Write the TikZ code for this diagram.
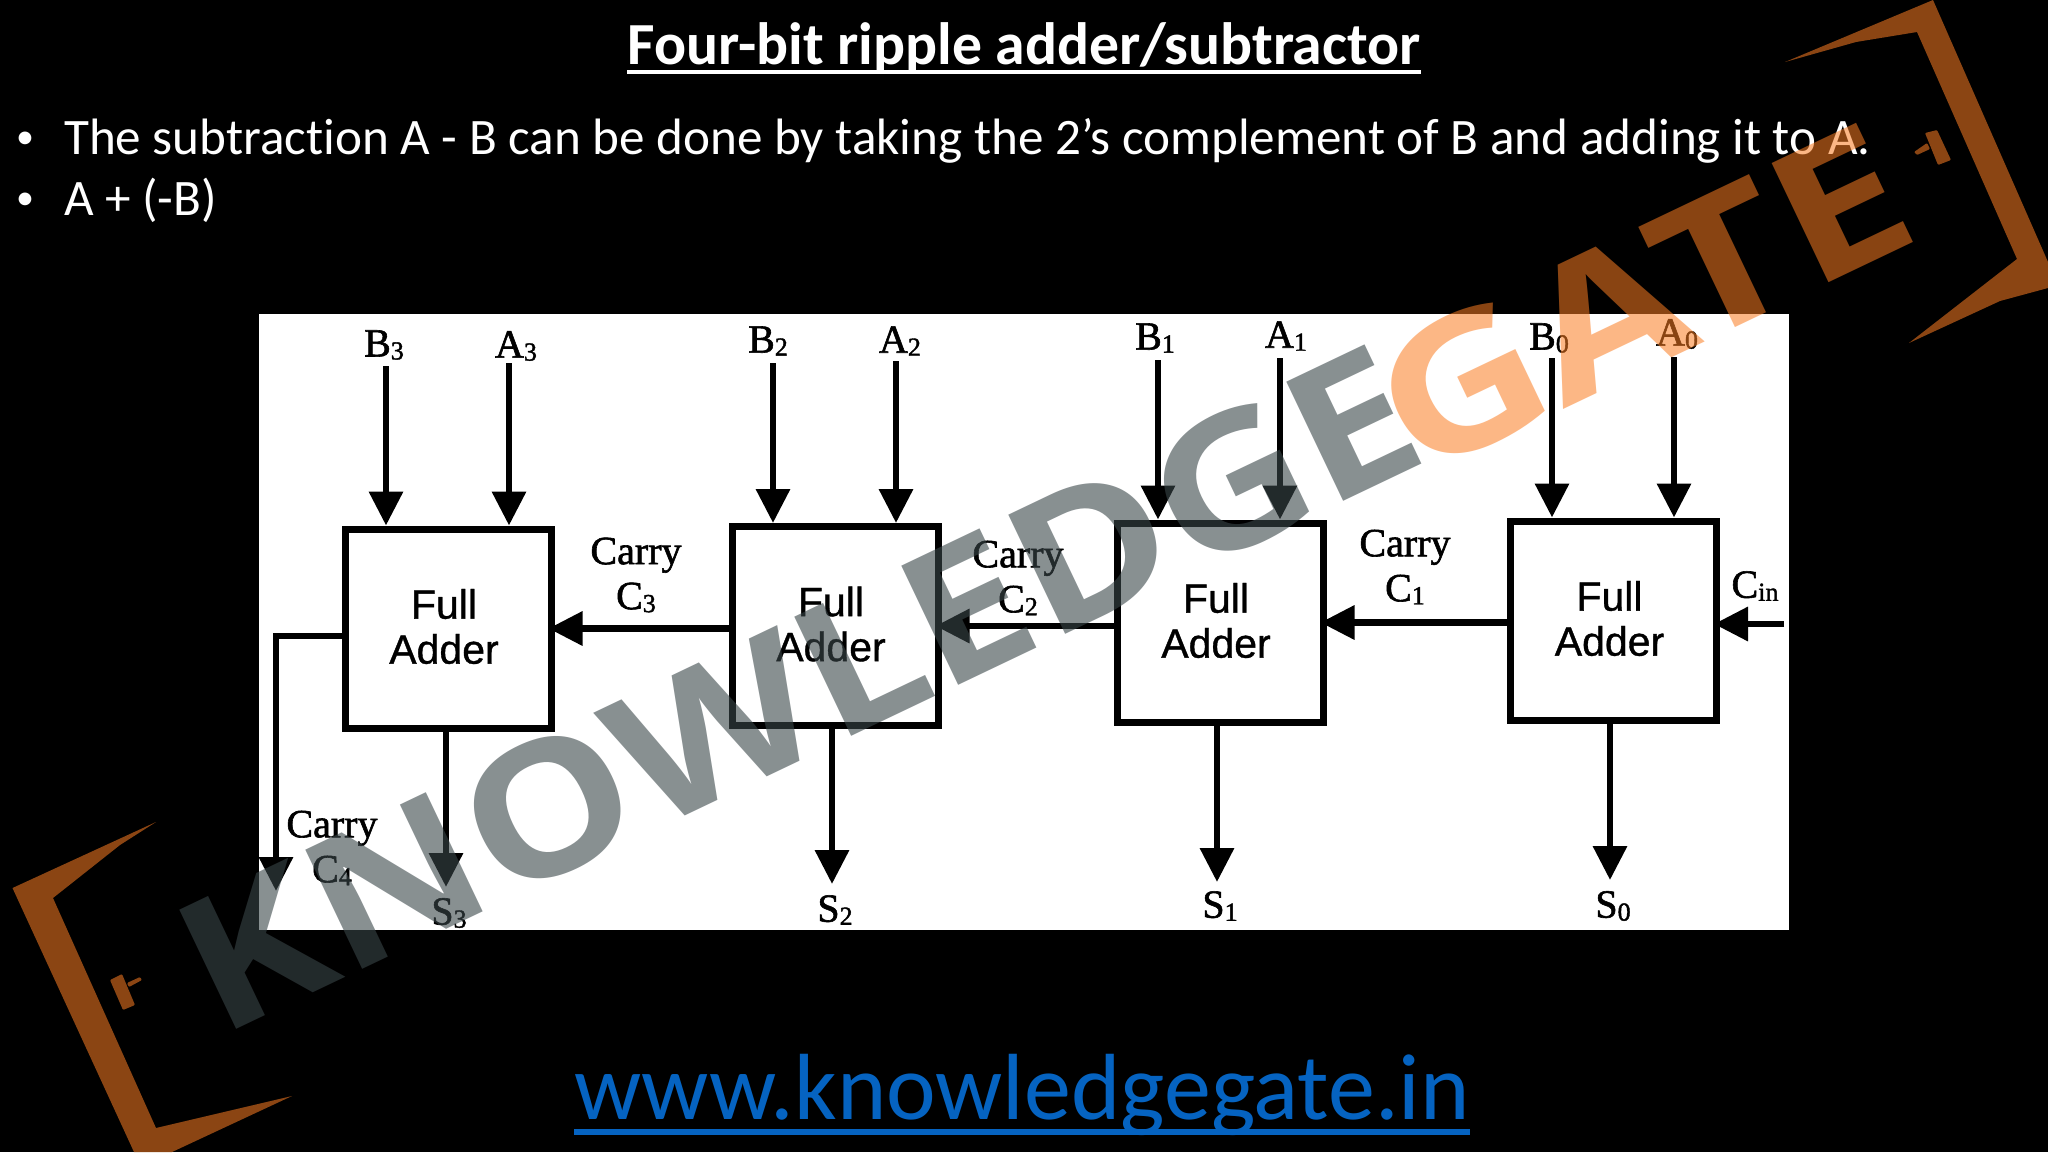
\documentclass[tikz,border=0pt]{standalone}
\usepackage{fontspec}
\usetikzlibrary{arrows.meta}
\setmainfont{Carlito}[Ligatures=CommonOff]
\newfontfamily\scanserif[FakeBold=1.5]{Liberation Serif}
\newfontfamily\scansans[FakeBold=0.9]{Liberation Sans}
\newfontfamily\markfont{Open Sans}
\newcommand{\subd}[1]{{\fontsize{26}{26}\selectfont\raisebox{-3pt}{#1}}}
\definecolor{linkblue}{RGB}{5,99,193}
\definecolor{markgray}{RGB}{58,70,73}
\definecolor{markorange}{RGB}{251,125,34}
\definecolor{markbrown}{RGB}{139,69,19}
\tikzset{
    adderbox/.style={draw=black, fill=white, line width=7pt, minimum width=206pt, minimum height=199pt, inner sep=0pt},
    addertext/.style={text=black, inner sep=0pt, align=center, font=\scansans\fontsize{41}{45}\selectfont},
    conn/.style={draw=black, line width=6.5pt, -{Triangle[length=34pt,width=33pt]}},
    carryconn/.style={conn, shorten >=-6pt},
    signal/.style={text=black, inner sep=0pt, align=center, font=\scanserif\fontsize{40}{45}\selectfont},
    slidetext/.style={text=white, inner sep=0pt, anchor=base west, font=\fontsize{51.15}{58}\selectfont},
    slidebullet/.style={text=white, inner sep=0pt, anchor=base, font=\fontsize{36}{40}\selectfont},
    wmark/.style={rotate=25.5, anchor=base west, inner sep=0pt, font=\markfont\bfseries\fontsize{185}{185}\selectfont},
    bracket/.style={fill=markbrown, rounded corners=1pt}
}
\begin{document}
\begin{tikzpicture}[x=1pt, y=-1pt]
    \useasboundingbox (0,0) rectangle (2048,1152);
    \fill[black] (0,0) rectangle (2048,1152);

    % Slide text
    \node[text=white, inner sep=0pt, anchor=base, font=\bfseries\fontsize{59.7}{64}\selectfont] (title) at (1024,64) {Four-bit ripple adder/subtractor};
    \draw[white, line width=4pt] ([yshift=-8pt]title.base west) -- ([yshift=-8pt]title.base east);
    \node[slidebullet] (bulletone) at (25,148) {•};
    \node[slidetext] (lineone) at (64,154) {The subtraction A - B can be done by taking the 2’s complement of B and adding it to A.};
    \node[slidebullet] (bullettwo) at (25,209.5) {•};
    \node[slidetext] (linetwo) at (64,215) {A + (-B)};

    % White panel
    \fill[white] (259,313.5) rectangle (1789,930);

    % Adder boxes
    \foreach \n/\xc/\yc in {3/448/628.5, 2/835/626, 1/1220/622.5, 0/1613.5/620.5} {
        \node[adderbox] (fa\n) at (\xc,\yc) {};
        \node[addertext] (fatext\n) at ([shift={(-4,-2)}]fa\n.center) {Full\\Adder};
    }

    % Inputs B and A
    \foreach \n/\bx/\ax/\by/\ay in {3/386/509/366/363, 2/773/896/363/361, 1/1158/1280/360/358, 0/1552/1674/358/357} {
        \coordinate (bin\n) at (\bx,\by);
        \coordinate (ain\n) at (\ax,\ay);
        \draw[conn] (bin\n) -- (bin\n |- fa\n.north);
        \draw[conn] (ain\n) -- (ain\n |- fa\n.north);
    }
    \foreach \n/\bx/\by/\ax/\ay in {3/384/345/516/346, 2/768/341/900/341, 1/1155/338/1286/336, 0/1549/338/1677/334} {
        \node[signal] (blbl\n) at (\bx,\by) {B\subd{\n}};
        \node[signal] (albl\n) at (\ax,\ay) {A\subd{\n}};
    }

    % Sum outputs
    \foreach \n/\sx/\tip/\ly in {3/446/887/913, 2/832/884/910, 1/1217/882/906, 0/1610/880/906} {
        \coordinate (sout\n) at (\sx,\tip);
        \draw[conn] (sout\n |- fa\n.south) -- (sout\n);
        \node[signal] (slbl\n) at (\sx+3,\ly) {S\subd{\n}};
    }

    % Carries between the boxes
    \draw[carryconn] (fa3.east -| fa2.west) -- (fa3.east);
    \draw[carryconn] (fa2.east -| fa1.west) -- (fa2.east);
    \draw[carryconn] (fa1.east -| fa0.west) -- (fa1.east);
    \coordinate (cinstart) at (1784,624);
    \draw[carryconn] (cinstart) -- (cinstart -| fa0.east);
    \node[signal] (cinlbl) at (1755,586) {C\subd{in}};
    \node[signal] (carrythree) at (636,575) {Carry\\C\subd{3}};
    \node[signal] (carrytwo) at (1018,578) {Carry\\C\subd{2}};
    \node[signal] (carryone) at (1405,567) {Carry\\C\subd{1}};

    % Last carry out
    \coordinate (cfourturn) at (276,636);
    \coordinate (cfourend) at (276,891);
    \draw[conn] (cfourturn -| fa3.west) -- (cfourturn) -- (cfourend);
    \node[signal] (carryfour) at (332,848) {Carry\\C\subd{4}};

    % Link
    \node[text=linkblue, inner sep=0pt, anchor=base, font=\fontsize{94}{96}\selectfont] (link) at (1022,1119) {www.knowledgegate.in};
    \draw[linkblue, line width=6pt] ([yshift=-13pt]link.base west) -- ([yshift=-13pt]link.base east);

    % Watermark
    \node[wmark, text=markgray, text opacity=.6] (wmknow) at (219,1038) {\scalebox{1.14}[1]{KNOWLEDGE}};
    \node[wmark, text=markorange, text opacity=.55] (wmgate) at (1415,480) {\scalebox{1.23}[1]{GATE}};

    % Brackets
    \fill[markbrown] (156,822) -- (12.5,888) -- (134,1152) -- (172,1152) -- (292,1096) -- (156,1128) -- (53,898) -- (120,845) -- cycle;
    \fill[bracket] (110,980) -- (122,974) -- (135,1005) -- (123,1010) -- cycle;
    \fill[bracket] (127,983) -- (140,977) -- (142,980) -- (129,987) -- cycle;
    \fill[markbrown] (1785,62) -- (1933,0) -- (2048,262) -- (2048,288) -- (2000,301) -- (1909,343) -- (2017,259) -- (1917,32) -- (1856,42) -- cycle;
    \fill[bracket] (1925,133) -- (1937,130) -- (1951,160) -- (1938,165) -- cycle;
    \fill[bracket] (1927,143) -- (1914,152) -- (1917,155) -- (1930,149) -- cycle;
\end{tikzpicture}
\end{document}
